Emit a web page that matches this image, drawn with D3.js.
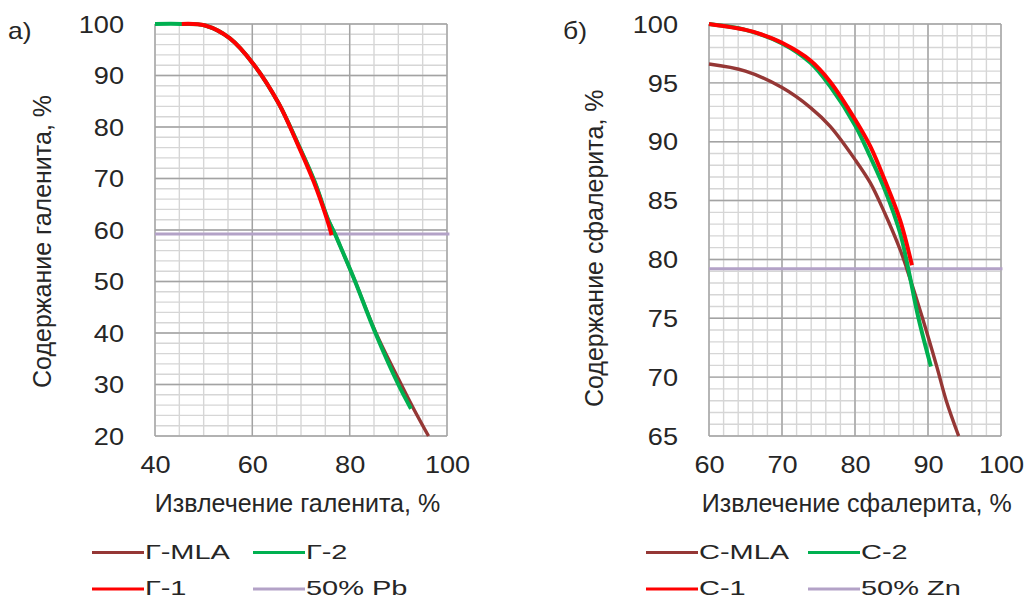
<!DOCTYPE html>
<html>
<head>
<meta charset="utf-8">
<script src="https://cdn.jsdelivr.net/npm/d3@7"></script>
<style>
  body { margin: 0; background: #fff; }
  svg { display: block; }
  text { font-family: "Liberation Sans", Arial, sans-serif; fill: #262626; }
</style>
</head>
<body>
<script>
// ---- data: panel а) galena ----
const galTicksX = [40, 60, 80, 100];
const galTicksY = [20, 30, 40, 50, 60, 70, 80, 90, 100];
const galMlaX = [45.5, 50.3, 55.4, 60.4, 65.4, 69.2, 72.8, 75.5, 77.0, 78.0, 81.0, 85.4, 90.6, 93.3, 96.2];
const galMlaY = [100, 99.7, 97.2, 92.0, 84.6, 77.1, 69.4, 62.2, 59.2, 57, 50.3, 40, 30, 25, 20];
const gal1X = [45.5, 50.3, 55.4, 60.4, 65.4, 69.1, 72.6, 75.3, 76.3];
const gal1Y = [100, 99.7, 97.2, 92.0, 84.6, 77.1, 69.4, 62.2, 59.0];
const gal2X = [40, 45.5, 50.3, 55.4, 60.4, 65.4, 69.2, 72.8, 75.5, 77.0, 78.0, 81.0, 85.2, 90.0, 92.6];
const gal2Y = [100, 100, 99.7, 97.2, 92.0, 84.6, 77.1, 69.4, 62.2, 59.2, 57, 50.3, 40.2, 30, 25.3];
const galLimitX = [40, 100.5];
const galLimit = 59.2;
const galNames = ["Г-MLA", "Г-2", "Г-1", "50% Pb"];

// ---- data: panel б) sphalerite ----
const sphTicksX = [60, 70, 80, 90, 100];
const sphTicksY = [65, 70, 75, 80, 85, 90, 95, 100];
const sphMlaX = [60, 65, 70, 73.9, 76.6, 80.1, 82.1, 84.1, 86.2, 87.1, 89.2, 91.2, 92.5, 94.2];
const sphMlaY = [96.6, 96.0, 94.6, 92.9, 91.3, 88.4, 86.5, 83.9, 80.8, 79.2, 75.1, 70.9, 68, 65];
const sph1X = [60, 65, 67, 70, 73.9, 76.6, 80.1, 82.1, 84.1, 86.2, 87.8];
const sph1Y = [100, 99.5, 99.15, 98.4, 96.9, 95.1, 91.8, 89.6, 86.7, 83.3, 79.5];
const sph2X = [60, 65, 70, 73.9, 76.6, 80.1, 82.1, 84.1, 86.2, 87.3, 88.7, 90.4];
const sph2Y = [100, 99.5, 98.35, 96.7, 94.7, 91.3, 88.7, 85.9, 82.2, 79.2, 75, 70.9];
const sphLimitX = [60, 100.2];
const sphLimit = 79.2;
const sphNames = ["С-MLA", "С-2", "С-1", "50% Zn"];

const cBrown = "#953735", cGreen = "#00b050", cRed = "#ff0000", cPurple = "#b3a2c7";

const svg = d3.select("body").append("svg")
  .attr("width", 1027)
  .attr("height", 599);

function zip(xs, ys) { return xs.map((v, i) => [v, ys[i]]); }

function stretched(g, x, y, str, size, sx, anchor) {
  g.append("text")
    .attr("transform", "translate(" + x + "," + y + ") scale(" + sx + ",1)")
    .attr("text-anchor", anchor)
    .attr("font-size", size)
    .text(str);
}

function panel(p) {
  const x = d3.scaleLinear().domain(p.xDomain).range([p.left, p.left + 292]);
  const y = d3.scaleLinear().domain(p.yDomain).range([436, 24]);
  const g = svg.append("g");

  // minor grid
  const grid = g.append("g");
  grid.selectAll(".vx").data(d3.range(p.xDomain[0], p.xDomain[1] + 0.01, p.xMinor)).join("line")
    .attr("x1", d => x(d)).attr("x2", d => x(d))
    .attr("y1", y.range()[0]).attr("y2", y.range()[1])
    .attr("stroke", "#d6d6d6").attr("stroke-width", 1.4);
  grid.selectAll(".hy").data(d3.range(p.yDomain[0], p.yDomain[1] + 0.01, p.yMinor)).join("line")
    .attr("y1", d => y(d)).attr("y2", d => y(d))
    .attr("x1", x.range()[0]).attr("x2", x.range()[1])
    .attr("stroke", "#d6d6d6").attr("stroke-width", 1.4);
  // major grid
  grid.selectAll(".mx").data(p.ticksX).join("line")
    .attr("x1", d => x(d)).attr("x2", d => x(d))
    .attr("y1", y.range()[0]).attr("y2", y.range()[1])
    .attr("stroke", "#a3a3a3").attr("stroke-width", 1.4);
  grid.selectAll(".my").data(p.ticksY).join("line")
    .attr("y1", d => y(d)).attr("y2", d => y(d))
    .attr("x1", x.range()[0]).attr("x2", x.range()[1])
    .attr("stroke", "#a3a3a3").attr("stroke-width", 1.4);

  // axes (labels only)
  const ax = g.append("g").attr("transform", "translate(0,436)")
    .call(d3.axisBottom(x).tickValues(p.ticksX).tickSize(0).tickFormat(d3.format("d")));
  const ay = g.append("g").attr("transform", "translate(" + p.left + ",0)")
    .call(d3.axisLeft(y).tickValues(p.ticksY).tickSize(0).tickFormat(d3.format("d")));
  [ax, ay].forEach(a => {
    a.select(".domain").remove();
    a.selectAll("text").attr("font-family", null).attr("font-size", 23).attr("fill", "#262626");
  });
  ax.selectAll("text").attr("y", 0).attr("dy", null)
    .attr("transform", "translate(0,37) scale(1.18,1)");
  ay.selectAll("text").attr("x", 0).attr("dy", null)
    .attr("transform", "translate(-31,8.2) scale(1.18,1)");

  // series
  const flat = d3.line().x(d => x(d[0])).y(d => y(d[1]));
  const line = d3.line().x(d => x(d[0])).y(d => y(d[1])).curve(d3.curveCatmullRom.alpha(0.5));
  g.append("path").attr("d", flat(zip(p.limitX, p.limitX.map(() => p.limit))))
    .attr("fill", "none").attr("stroke", cPurple).attr("stroke-width", 3);
  g.append("path").attr("d", line(zip(p.mlaX, p.mlaY)))
    .attr("fill", "none").attr("stroke", cBrown).attr("stroke-width", 3.4);
  g.append("path").attr("d", line(zip(p.s2X, p.s2Y)))
    .attr("fill", "none").attr("stroke", cGreen).attr("stroke-width", 4);
  g.append("path").attr("d", line(zip(p.s1X, p.s1Y)))
    .attr("fill", "none").attr("stroke", cRed).attr("stroke-width", 4);

  // titles
  stretched(g, p.label[0], 39, p.label[2], 23, 1.15, "start");
  g.append("text")
    .attr("transform", "translate(" + p.yTitle[0] + "," + p.yTitle[1] + ") rotate(-90)")
    .attr("text-anchor", "middle").attr("font-size", 25).text(p.yTitle[2]);
  g.append("text")
    .attr("x", p.xTitle[0]).attr("y", 512)
    .attr("text-anchor", "middle").attr("font-size", 25).text(p.xTitle[1]);

  // legend
  const cols = [cBrown, cGreen, cRed, cPurple];
  p.names.forEach((n, i) => {
    const lx = p.legX[i % 2], ly = i < 2 ? 552.5 : 589;
    g.append("line").attr("x1", lx).attr("x2", lx + 52).attr("y1", ly).attr("y2", ly)
      .attr("stroke", cols[i]).attr("stroke-width", 3);
    stretched(g, lx + 53, ly + (i < 2 ? 6.5 : 5.5), n, 21, 1.38, "start");
  });
}

panel({
  left: 155, xDomain: [40, 100], yDomain: [20, 100], xMinor: 5, yMinor: 2,
  ticksX: galTicksX, ticksY: galTicksY,
  mlaX: galMlaX, mlaY: galMlaY, s1X: gal1X, s1Y: gal1Y, s2X: gal2X, s2Y: gal2Y,
  limitX: galLimitX, limit: galLimit,
  label: [8, 39, "а)"],
  yTitle: [51, 241.5, "Содержание галенита, %"],
  xTitle: [297.5, "Извлечение галенита, %"],
  names: galNames, legX: [92, 253]
});

panel({
  left: 709, xDomain: [60, 100], yDomain: [65, 100], xMinor: 2, yMinor: 1,
  ticksX: sphTicksX, ticksY: sphTicksY,
  mlaX: sphMlaX, mlaY: sphMlaY, s1X: sph1X, s1Y: sph1Y, s2X: sph2X, s2Y: sph2Y,
  limitX: sphLimitX, limit: sphLimit,
  label: [563, 39, "б)"],
  yTitle: [602.5, 248.3, "Содержание сфалерита, %"],
  xTitle: [856.7, "Извлечение сфалерита, %"],
  names: sphNames, legX: [646, 808]
});
</script>
</body>
</html>
